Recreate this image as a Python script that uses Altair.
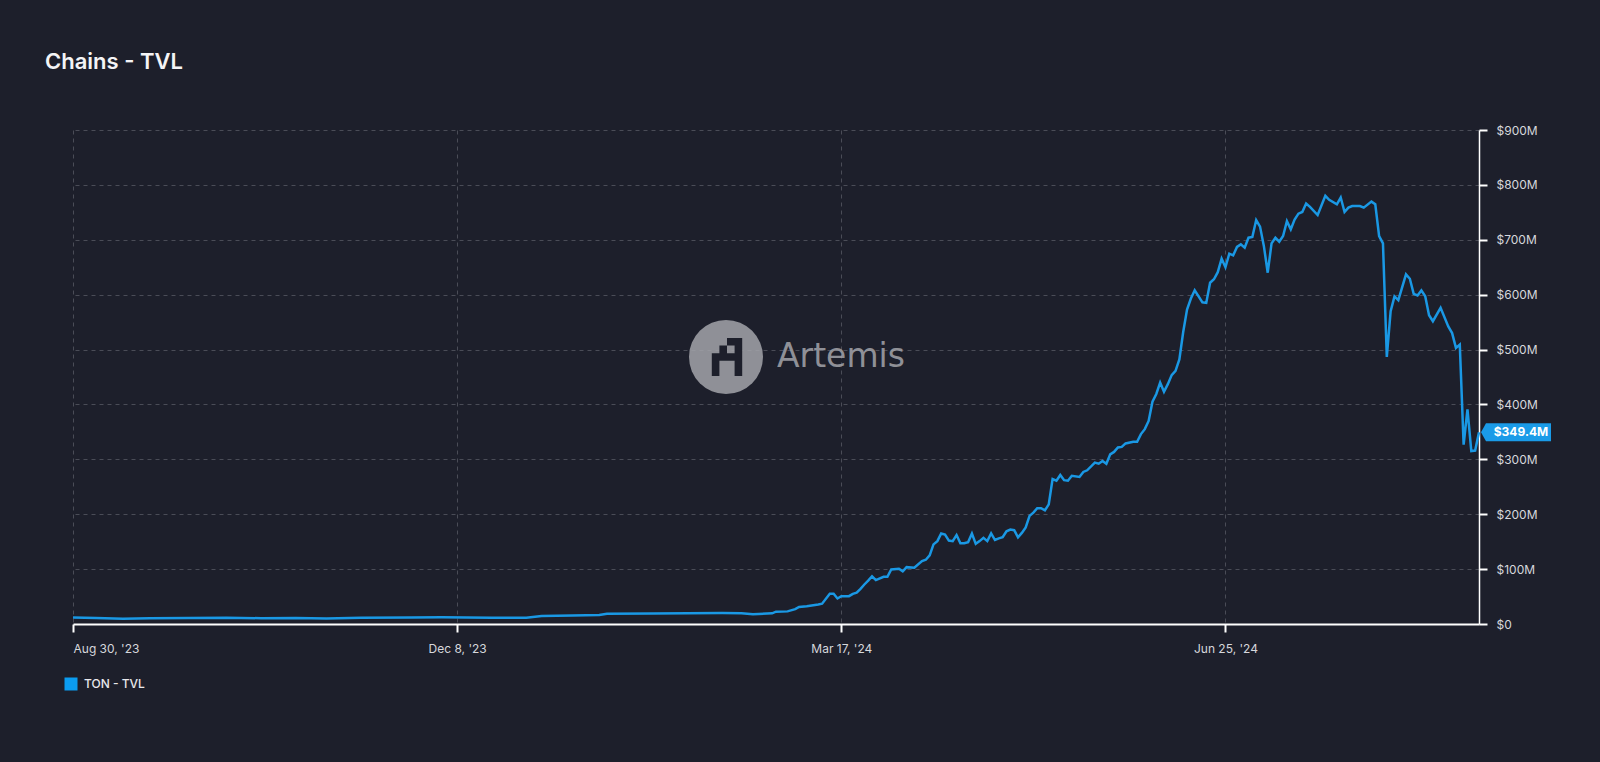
import datetime as dt
import altair as alt
import pandas as pd

# ---- data ----
start_date = dt.date(2023, 8, 30)
day_offsets = [0, 6, 13, 20, 30, 40, 49, 58, 66, 75, 88, 96, 109, 118, 122, 130, 137, 139, 151, 160,
               169, 174, 177, 182, 183, 186, 188, 189, 191, 194, 195, 197, 198, 199, 200, 202, 203, 204,
               205, 206, 207, 208, 209, 211, 212, 213, 215, 216, 217, 219, 221, 222, 223, 224, 225, 226,
               227, 228, 229, 230, 231, 232, 233, 234, 235, 236, 237, 238, 239, 240, 241, 242, 243, 244,
               245, 246, 247, 248, 249, 250, 251, 252, 253, 254, 255, 256, 257, 258, 259, 260, 262, 263,
               264, 266, 267, 268, 269, 270, 271, 272, 273, 274, 276, 277, 278, 279, 280, 281, 282, 283,
               284, 285, 286, 287, 288, 289, 290, 291, 292, 294, 295, 296, 297, 298, 299, 300, 301, 302,
               303, 304, 305, 306, 307, 308, 309, 310, 311, 312, 313, 314, 315, 316, 317, 318, 319, 320,
               321, 322, 324, 326, 327, 329, 330, 331, 332, 333, 335, 336, 338, 339, 340, 341, 342, 343,
               344, 345, 347, 348, 349, 350, 351, 352, 353, 354, 356, 358, 359, 360, 361, 362, 363, 364,
               365, 366]
tvl_millions = [12, 11, 9.5, 10.5, 11, 11.5, 10.5, 11, 10, 11.5, 12, 12.4, 11.3, 11.5, 14.6, 15.5, 16.4,
                18.8, 19, 19.8, 20, 19.5, 17.7, 19.5, 22.4, 23, 27, 31, 32.5, 35.6, 37, 55, 55, 46.5, 50.7,
                50.7, 55, 57, 64, 72, 79, 87, 80, 86, 86, 99.5, 100.7, 96, 103.6, 102.5, 114.6, 117, 125,
                145, 151, 165, 163, 152, 151, 162, 147, 147, 149, 164.6, 146, 151, 157, 151, 165, 153, 156,
                158, 169, 172, 171, 158, 166, 176, 197, 203, 211, 211, 207, 218, 264, 261, 271.5, 262, 261,
                270, 268, 277, 280, 294, 292, 297, 292, 309, 313.5, 321.5, 322.6, 329, 332, 332, 346, 355,
                370, 405, 419, 440, 423, 437, 453.5, 461, 482, 532, 573, 593, 608, 586, 585, 621.7, 628,
                641, 665.5, 650, 674.6, 671.5, 687, 691.6, 685.6, 703.8, 705, 736, 724, 688.5, 640, 693.4,
                703.8, 696.5, 706.8, 734, 719, 737, 747.6, 750.6, 766, 760, 745, 780, 772.7, 764.6, 777,
                750.6, 758.6, 761.5, 761.5, 758.6, 769.5, 764.6, 706.8, 693.4, 486.7, 570, 597, 590, 637,
                629, 601.6, 598.5, 607.7, 597, 562.6, 551.6, 576, 542, 530, 503, 509, 326.6, 391, 315, 316,
                349.4]
series_name = "TON - TVL"
title_text = "Chains - TVL"
y_ticks = [0, 100, 200, 300, 400, 500, 600, 700, 800, 900]
x_tick_dates = [(2023, 8, 30), (2023, 12, 8), (2024, 3, 17), (2024, 6, 25)]
last_label = "$349.4M"

BG = "#1d1f2b"
BLUE = "#1a98e4"
GRID = "#4a4c57"
LABEL = "#d6d7dc"

dates = [(start_date + dt.timedelta(days=d)).isoformat() for d in day_offsets]
df = pd.DataFrame({"date": dates, "tvl": tvl_millions})
last_df = df.tail(1).assign(label=last_label)
one = pd.DataFrame({"k": [0]})

x_scale = alt.Scale(type="utc", nice=False,
                    domain=[alt.DateTime(year=2023, month=8, date=30, utc=True),
                            alt.DateTime(year=2024, month=8, date=30, utc=True)])
y_scale = alt.Scale(domain=[0, 900], nice=False)

x_axis = alt.Axis(
    values=[alt.DateTime(year=y, month=m, date=d, utc=True) for (y, m, d) in x_tick_dates],
    labelExpr="utcFormat(datum.value, \"%b %-d, '%y\")",
    title=None, grid=True, gridColor=GRID, gridDash=[4, 4], gridWidth=1,
    domain=True, domainColor="#ffffff", domainWidth=2,
    ticks=True, tickColor="#ffffff", tickSize=8, tickWidth=2,
    labelColor=LABEL, labelFont="Inter", labelFontSize=12, labelPadding=11,
)
y_axis = alt.Axis(
    orient="right", values=y_ticks,
    labelExpr="datum.value == 0 ? '$0' : '$' + datum.value + 'M'",
    title=None, grid=True, gridColor=GRID, gridDash=[4, 4], gridWidth=1,
    domain=True, domainColor="#ffffff", domainWidth=1.5,
    ticks=True, tickColor="#ffffff", tickSize=8, tickWidth=2,
    labelColor=LABEL, labelFont="Inter", labelFontSize=12, labelPadding=9,
)

# watermark (decoration)
wm_circle = alt.Chart(one).mark_point(
    shape="circle", filled=True, color="#a3a4aa", opacity=0.85, size=5476
).encode(x=alt.value(653), y=alt.value(227))

glyph_cells = [(2, 0), (3, 0), (1, 1), (3, 1), (0, 2), (1, 2), (2, 2), (3, 2), (0, 3), (3, 3), (0, 4), (3, 4)]
glyph_path = " ".join(
    f"M{-0.8 + c * 0.4:.2f},{-1 + r * 0.4:.2f}h0.4v0.4h-0.4Z" for c, r in glyph_cells
)
wm_glyph = alt.Chart(one).mark_point(
    shape=glyph_path, filled=True, color=BG, opacity=1, size=1444, strokeWidth=0
).encode(x=alt.value(654), y=alt.value(227))

wm_text = alt.Chart(one).mark_text(
    text="Artemis", font="DejaVu Sans", fontSize=33, color="#a3a4aa", opacity=0.85,
    align="left", baseline="alphabetic"
).encode(x=alt.value(704), y=alt.value(237))

line = alt.Chart(df).mark_line(color=BLUE, strokeWidth=2.5).encode(
    x=alt.X("date:T", scale=x_scale, axis=x_axis),
    y=alt.Y("tvl:Q", scale=y_scale, axis=y_axis),
)

box_path = "M-1,0 L-0.857,-0.257 L1,-0.257 L1,0.257 L-0.857,0.257 Z"
end_box = alt.Chart(last_df).mark_point(
    shape=box_path, filled=True, color="#1a9be8", opacity=1, size=4900, xOffset=37, strokeWidth=0
).encode(x="date:T", y="tvl:Q")
end_text = alt.Chart(last_df).mark_text(
    font="Inter", fontSize=12, fontWeight="bold", color="#ffffff", xOffset=42,
    align="center", baseline="middle"
).encode(x="date:T", y="tvl:Q", text="label:N")

# legend (decoration)
leg_sq = alt.Chart(one).mark_point(
    shape="square", filled=True, color="#0b9cf0", opacity=1, size=169
).encode(x=alt.value(-2), y=alt.value(554))
leg_txt = alt.Chart(one).mark_text(
    text=series_name, font="Inter", fontSize=12, fontWeight=500, color="#e8e8ec",
    align="left", baseline="middle"
).encode(x=alt.value(11), y=alt.value(554))

chart = alt.layer(
    wm_circle, wm_glyph, wm_text, line, end_box, end_text, leg_sq, leg_txt
).properties(
    width=1406, height=494,
    autosize=alt.AutoSizeParams(type="none"),
    padding={"left": 65, "top": 122, "right": 100, "bottom": 120},
    background=BG,
    title=alt.TitleParams(
        text=title_text, anchor="start", frame="group", dx=-28, offset=33,
        baseline="alphabetic", font="Inter", fontSize=22, fontWeight=600, color="#f4f4f6"
    ),
).configure_view(stroke=None)

chart.save("out.html", embed_options={"renderer": "svg", "actions": False,
                                      "defaultStyle": "body{background:#1d1f2b;}"})
